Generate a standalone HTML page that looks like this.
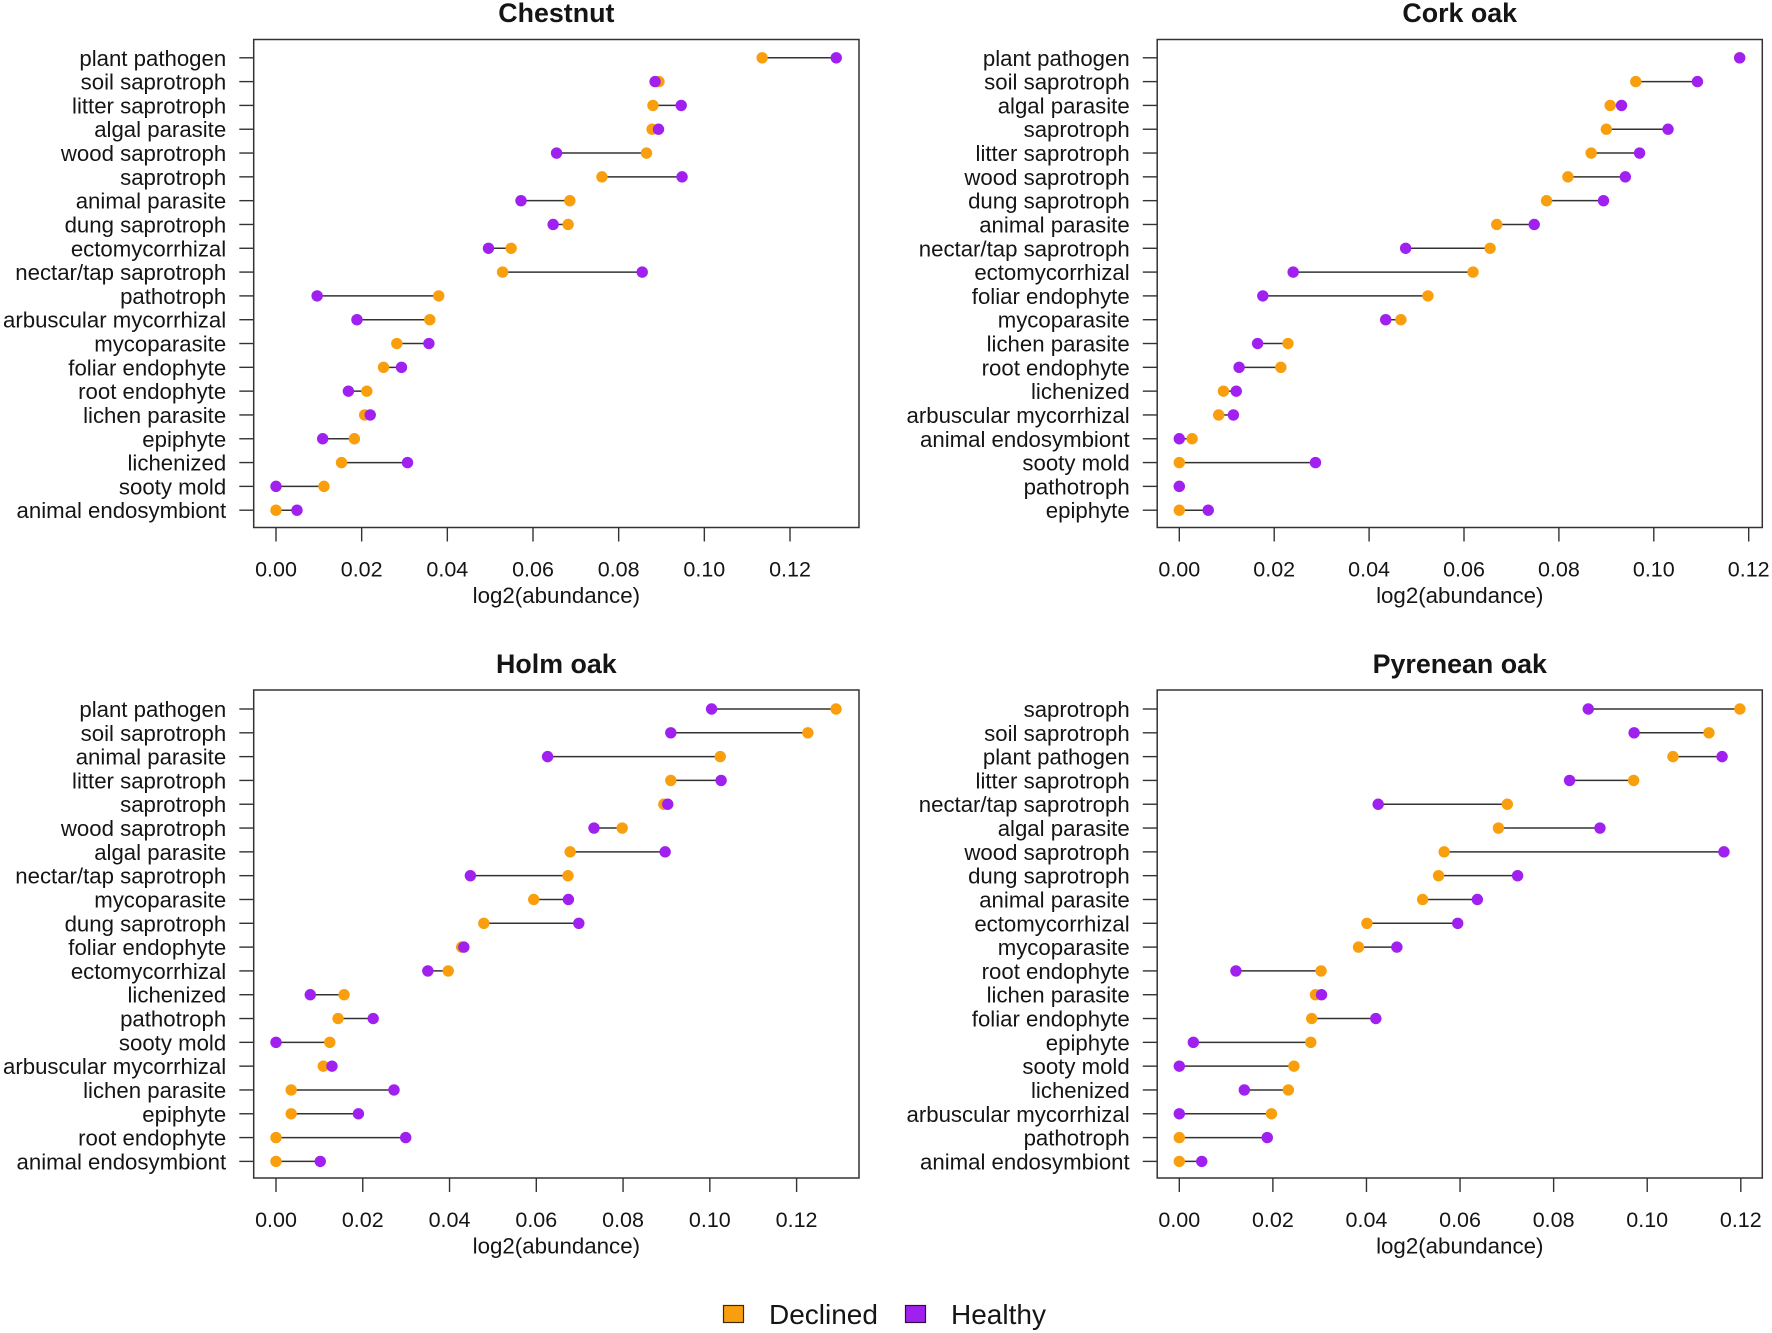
<!DOCTYPE html>
<html lang="en">
<head>
<meta charset="utf-8">
<title>Fungal guild abundance by tree species</title>
<style>
  html, body { margin: 0; padding: 0; background: #ffffff; }
  svg { display: block; }
  text { font-family: "Liberation Sans", Arial, sans-serif; fill: #151515; }
</style>
</head>
<body>
<svg id="figure" xmlns="http://www.w3.org/2000/svg" width="1772" height="1333" viewBox="0 0 1772 1333">
  <g id="panels"></g>
  <g id="legend">
    <g>
      <rect x="723.5" y="1305.5" width="20" height="17" fill="#F99F0E" stroke="#3a2a10" stroke-width="1.2"/>
      <text x="769" y="1324" font-size="28">Declined</text>
    </g>
    <g>
      <rect x="905.5" y="1305.5" width="20" height="17" fill="#A020F0" stroke="#2a1040" stroke-width="1.2"/>
      <text x="951" y="1324" font-size="28">Healthy</text>
    </g>
  </g>
</svg>
<script>
const xTickValues = [0, 0.02, 0.04, 0.06, 0.08, 0.10, 0.12];
const xTickLabels = ["0.00", "0.02", "0.04", "0.06", "0.08", "0.10", "0.12"];
const xAxisTitle = "log2(abundance)";

const chestnutCategories = ["plant pathogen","soil saprotroph","litter saprotroph","algal parasite","wood saprotroph","saprotroph","animal parasite","dung saprotroph","ectomycorrhizal","nectar/tap saprotroph","pathotroph","arbuscular mycorrhizal","mycoparasite","foliar endophyte","root endophyte","lichen parasite","epiphyte","lichenized","sooty mold","animal endosymbiont"];
const chestnutDeclined = [0.1135,0.0894,0.0880,0.0878,0.0865,0.0761,0.0686,0.0682,0.0549,0.0529,0.0380,0.0359,0.0282,0.0251,0.0212,0.0207,0.0183,0.0153,0.0112,0];
const chestnutHealthy = [0.1308,0.0885,0.0946,0.0893,0.0655,0.0948,0.0572,0.0647,0.0496,0.0855,0.0096,0.0189,0.0357,0.0293,0.0169,0.0220,0.0109,0.0307,0,0.0049];

const corkCategories = ["plant pathogen","soil saprotroph","algal parasite","saprotroph","litter saprotroph","wood saprotroph","dung saprotroph","animal parasite","nectar/tap saprotroph","ectomycorrhizal","foliar endophyte","mycoparasite","lichen parasite","root endophyte","lichenized","arbuscular mycorrhizal","animal endosymbiont","sooty mold","pathotroph","epiphyte"];
const corkDeclined = [0.1181,0.0962,0.0908,0.0900,0.0868,0.0819,0.0774,0.0669,0.0655,0.0619,0.0524,0.0467,0.0229,0.0214,0.0093,0.0083,0.0027,0,0,0];
const corkHealthy = [0.1181,0.1092,0.0932,0.1030,0.0970,0.0940,0.0894,0.0748,0.0477,0.0240,0.0176,0.0435,0.0165,0.0126,0.0120,0.0114,0,0.0287,0,0.0061];

const holmCategories = ["plant pathogen","soil saprotroph","animal parasite","litter saprotroph","saprotroph","wood saprotroph","algal parasite","nectar/tap saprotroph","mycoparasite","dung saprotroph","foliar endophyte","ectomycorrhizal","lichenized","pathotroph","sooty mold","arbuscular mycorrhizal","lichen parasite","epiphyte","root endophyte","animal endosymbiont"];
const holmDeclined = [0.1291,0.1226,0.1024,0.0910,0.0894,0.0798,0.0678,0.0673,0.0594,0.0479,0.0428,0.0397,0.0157,0.0143,0.0124,0.0109,0.0035,0.0035,0,0];
const holmHealthy = [0.1004,0.0910,0.0626,0.1026,0.0903,0.0733,0.0897,0.0448,0.0674,0.0698,0.0433,0.0350,0.0079,0.0224,0,0.0129,0.0272,0.0190,0.0299,0.0102];

const pyreneanCategories = ["saprotroph","soil saprotroph","plant pathogen","litter saprotroph","nectar/tap saprotroph","algal parasite","wood saprotroph","dung saprotroph","animal parasite","ectomycorrhizal","mycoparasite","root endophyte","lichen parasite","foliar endophyte","epiphyte","sooty mold","lichenized","arbuscular mycorrhizal","pathotroph","animal endosymbiont"];
const pyreneanDeclined = [0.1198,0.1132,0.1055,0.0971,0.0701,0.0682,0.0566,0.0554,0.0520,0.0401,0.0383,0.0303,0.0291,0.0283,0.0281,0.0245,0.0233,0.0197,0,0];
const pyreneanHealthy = [0.0874,0.0972,0.1160,0.0834,0.0425,0.0899,0.1164,0.0723,0.0637,0.0595,0.0465,0.0121,0.0304,0.0420,0.0030,0,0.0139,0,0.0188,0.0048];

const NS = "http://www.w3.org/2000/svg";
const DECLINED_COLOR = "#F99F0E";
const HEALTHY_COLOR = "#A020F0";
const INK = "#333333";

const panels = [
  { key: "chestnut", title: "Chestnut", cats: chestnutCategories, declined: chestnutDeclined, healthy: chestnutHealthy,
    left: 253.7, right: 859, top: 39.5, bottom: 527.5, zeroPx: 276, maxPx: 790, rowFirst: 57.8, titleBase: 22 },
  { key: "cork-oak", title: "Cork oak", cats: corkCategories, declined: corkDeclined, healthy: corkHealthy,
    left: 1157.2, right: 1762.3, top: 39.5, bottom: 527.5, zeroPx: 1179.3, maxPx: 1748.7, rowFirst: 57.8, titleBase: 22 },
  { key: "holm-oak", title: "Holm oak", cats: holmCategories, declined: holmDeclined, healthy: holmHealthy,
    left: 253.7, right: 859, top: 690, bottom: 1178, zeroPx: 276, maxPx: 796.6, rowFirst: 709, titleBase: 673 },
  { key: "pyrenean-oak", title: "Pyrenean oak", cats: pyreneanCategories, declined: pyreneanDeclined, healthy: pyreneanHealthy,
    left: 1157.2, right: 1762.3, top: 690, bottom: 1178, zeroPx: 1179.3, maxPx: 1740.8, rowFirst: 709, titleBase: 673 }
];

function svgEl(tag, attrs, parent) {
  const el = document.createElementNS(NS, tag);
  for (const k in attrs) el.setAttribute(k, attrs[k]);
  parent.appendChild(el);
  return el;
}

const ROW_STEP = 23.81;
const root = document.getElementById("panels");

panels.forEach(function (p) {
  const xScale = function (v) { return p.zeroPx + (v / 0.12) * (p.maxPx - p.zeroPx); };
  const yScale = function (i) { return p.rowFirst + i * ROW_STEP; };

  const g = svgEl("g", {}, root);
  
  

  const title = svgEl("text", { x: (p.left + p.right) / 2, y: p.titleBase, "text-anchor": "middle", "font-size": 26.8, "font-weight": "bold" }, g);
  
  
  title.textContent = p.title;

  const box = svgEl("rect", { x: p.left, y: p.top, width: p.right - p.left, height: p.bottom - p.top, fill: "none", stroke: INK, "stroke-width": 1.5 }, g);
  
  

  // x axis
  xTickValues.forEach(function (v, i) {
    const px = xScale(v);
    const tick = svgEl("line", { x1: px, x2: px, y1: p.bottom, y2: p.bottom + 14, stroke: INK, "stroke-width": 1.4 }, g);
    
    
    const lab = svgEl("text", { x: px, y: p.bottom + 49.2, "text-anchor": "middle", "font-size": 21.5 }, g);
    
    
    lab.textContent = xTickLabels[i];
  });
  const xt = svgEl("text", { x: (p.left + p.right) / 2, y: p.bottom + 75.5, "text-anchor": "middle", "font-size": 22.3 }, g);
  
  
  xt.textContent = xAxisTitle;

  // rows
  p.cats.forEach(function (cat, i) {
    const y = yScale(i);
    const tick = svgEl("line", { x1: p.left - 14.4, x2: p.left, y1: y, y2: y, stroke: INK, "stroke-width": 1.4 }, g);
    
    

    const lab = svgEl("text", { x: p.left - 27.5, y: y + 8, "text-anchor": "end", "font-size": 22.2 }, g);
    
    
    lab.textContent = cat;

    const xd = xScale(p.declined[i]);
    const xh = xScale(p.healthy[i]);

    const conn = svgEl("line", { x1: xd, x2: xh, y1: y, y2: y, stroke: INK, "stroke-width": 1.5 }, g);
    
    

    const d = svgEl("circle", { cx: xd, cy: y, r: 5.7, fill: DECLINED_COLOR }, g);
    
    

    const h = svgEl("circle", { cx: xh, cy: y, r: 5.7, fill: HEALTHY_COLOR }, g);
    
    
  });
});
</script>
</body>
</html>
